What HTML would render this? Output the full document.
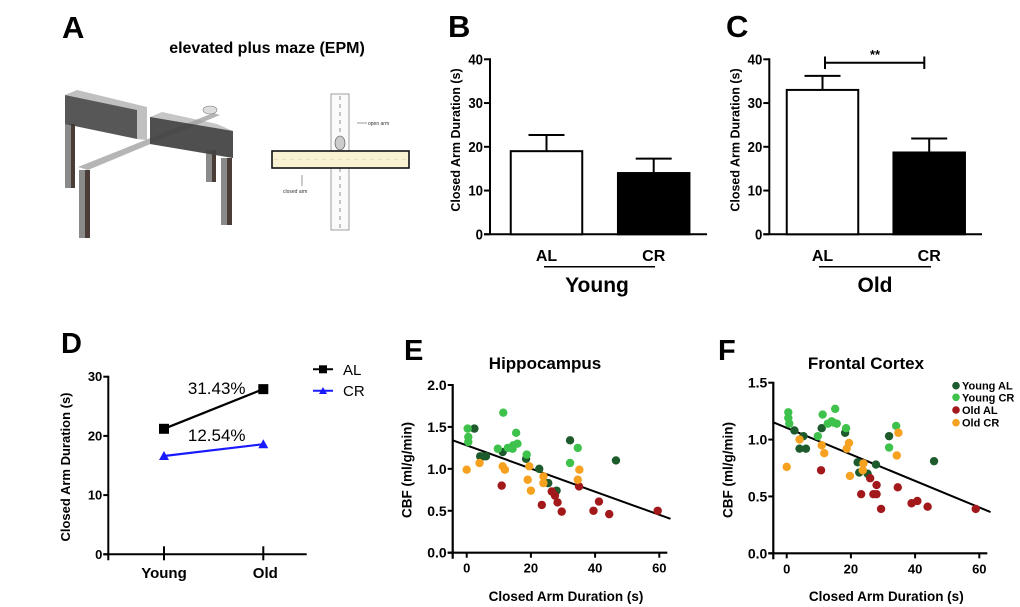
<!DOCTYPE html>
<html><head><meta charset="utf-8"><style>
html,body{margin:0;padding:0;background:#fff}
svg{display:block;font-family:"Liberation Sans",Arial,sans-serif}
</style></head><body>
<svg id="fig" width="1020" height="607" viewBox="0 0 1020 607" xmlns="http://www.w3.org/2000/svg">
<g>
<text x="62" y="38" font-size="31" font-weight="bold">A</text>
<text x="267" y="53" font-size="16" font-weight="bold" text-anchor="middle">elevated plus maze (EPM)</text>
<g>
<rect x="65" y="124" width="10" height="64" fill="#8a8a8a"/>
<rect x="71" y="124" width="4" height="64" fill="#4a3d38"/>
<rect x="206" y="150" width="10" height="32" fill="#8a8a8a"/>
<rect x="212" y="150" width="4" height="32" fill="#4a3d38"/>
<polygon points="65,95 77,90 147,107 147,140 137,139 137,110" fill="#b0b0b0" opacity="0.8"/>
<polygon points="65,95 137,110 137,139 65,124" fill="#3a3a3a" opacity="0.85"/>
<polygon points="78,167 88,170 220,115 213,113" fill="#a8a8a8" opacity="0.85"/>
<polygon points="162,112 217,124 233,131 233,158 150,144 150,117" fill="#a0a0a0" opacity="0.6"/>
<polygon points="150,117 233,131 233,158 150,144" fill="#3a3a3a" opacity="0.85"/>
<rect x="79" y="170" width="11" height="68" fill="#8a8a8a"/>
<rect x="85" y="170" width="5" height="68" fill="#4a3d38"/>
<rect x="221" y="158" width="11" height="67" fill="#8a8a8a"/>
<rect x="227" y="158" width="5" height="67" fill="#4a3d38"/>
<ellipse cx="210" cy="110" rx="7" ry="4" fill="#ddd" stroke="#777" stroke-width="0.6"/>
</g>
<g>
<rect x="331" y="94" width="18" height="136" fill="#fafafa" stroke="#888" stroke-width="0.8"/>
<line x1="340" y1="96" x2="340" y2="228" stroke="#666" stroke-width="0.7" stroke-dasharray="4,4"/>
<rect x="272" y="151" width="137" height="17" fill="#f8f2d2" stroke="#111" stroke-width="1.6"/>
<line x1="274" y1="159.5" x2="407" y2="159.5" stroke="#e0dcc0" stroke-width="0.7" stroke-dasharray="4,4"/>
<ellipse cx="340" cy="143" rx="5" ry="7" fill="#ccc" stroke="#555" stroke-width="0.6"/>
<line x1="357" y1="123" x2="367" y2="123" stroke="#333" stroke-width="0.5"/>
<text x="368" y="125" font-size="5" fill="#333">open arm</text>
<line x1="302" y1="186" x2="302" y2="175" stroke="#333" stroke-width="0.5"/>
<text x="283" y="193" font-size="5" fill="#333">closed arm</text>
</g>
</g>
<g id="charts"></g>
</svg>
<script>
const barCats = ['AL', 'CR'];
const bMeans = [19, 14];
const bErrs = [3.7, 3.3];
const cMeans = [33, 18.7];
const cErrs = [3.2, 3.2];
const barTicks = [0, 10, 20, 30, 40];
const dCats = ['Young', 'Old'];
const dAL = [21.2, 27.9];
const dCR = [16.6, 18.6];
const dTicks = [0, 10, 20, 30];
const dPct = ['31.43%', '12.54%'];
const eYoungALx = [2.4, 4.2, 5.2, 6, 11.2, 18.5, 22.6, 25.4, 28, 32.2, 46.5];
const eYoungALy = [1.48, 1.15, 1.15, 1.15, 1.2, 1.12, 1.0, 0.83, 0.74, 1.34, 1.1];
const eYoungCRx = [0.3, 0.5, 0.5, 11.4, 9.7, 12.8, 14.3, 15.4, 15.8, 14.5, 18.7, 34.6, 32.2];
const eYoungCRy = [1.48, 1.38, 1.32, 1.67, 1.24, 1.25, 1.24, 1.43, 1.30, 1.28, 1.17, 1.25, 1.07];
const eOldALx = [10.9, 23.4, 26.5, 27.5, 28.3, 29.6, 35, 39.5, 41.2, 44.4, 59.5];
const eOldALy = [0.80, 0.57, 0.73, 0.68, 0.60, 0.49, 0.79, 0.50, 0.61, 0.46, 0.50];
const eOldCRx = [0, 4, 11.2, 11.9, 19, 19.5, 20, 23.9, 23.9, 34.6, 35.1];
const eOldCRy = [0.99, 1.07, 1.03, 0.99, 0.87, 1.03, 0.74, 0.91, 0.83, 0.87, 0.99];
const eFit = [1.28, -0.0138];
const eYTicks = [0, 0.5, 1.0, 1.5, 2.0];
const fYoungALx = [2.4, 4, 5.2, 6, 10.9, 18.2, 22.1, 22.6, 25.2, 27.8, 31.9, 45.9];
const fYoungALy = [1.08, 0.92, 1.03, 0.92, 1.10, 1.06, 0.80, 0.71, 0.70, 0.78, 1.03, 0.81];
const fYoungCRx = [0.5, 0.5, 0.8, 11.2, 9.7, 12.8, 14, 15.1, 15.6, 14.5, 18.5, 34.1, 31.9];
const fYoungCRy = [1.24, 1.19, 1.14, 1.22, 1.03, 1.14, 1.16, 1.27, 1.14, 1.15, 1.10, 1.12, 0.93];
const fOldALx = [10.7, 23.2, 26, 27, 28, 28, 29.4, 34.6, 38.9, 40.7, 43.9, 58.9];
const fOldALy = [0.73, 0.52, 0.66, 0.52, 0.60, 0.52, 0.39, 0.58, 0.44, 0.46, 0.41, 0.39];
const fOldCRx = [0, 4, 10.9, 11.7, 18.7, 19.4, 19.7, 23.9, 23.7, 34.3, 34.8];
const fOldCRy = [0.76, 1.0, 0.95, 0.88, 0.92, 0.97, 0.68, 0.79, 0.73, 0.86, 1.06];
const fFit = [1.103, -0.01166];
const fYTicks = [0, 0.5, 1.0, 1.5];
const xTicks = [0, 20, 40, 60];
const groupNames = ['Young AL', 'Young CR', 'Old AL', 'Old CR'];
const groupColors = ['#1d5a2c', '#3ec24c', '#a3191b', '#f6a11f'];

const NS = 'http://www.w3.org/2000/svg';
const root = document.getElementById('charts');
function mk(tag, attrs, parent) {
  const el = document.createElementNS(NS, tag);
  for (const k in attrs) el.setAttribute(k, attrs[k]);
  (parent || root).appendChild(el);
  return el;
}
function txt(x, y, s, size, anchor, parent, extra) {
  const t = mk('text', Object.assign({x: x, y: y, 'font-size': size, 'font-weight': 'bold', 'text-anchor': anchor || 'middle'}, extra || {}), parent);
  t.textContent = s;
  return t;
}

function barChart(letter, lx, ax, axEnd, centers, means, errs, group, groupX, ulx1, ulx2) {
  const g = mk('g', {});
  
  
  const y0 = 234.3, k = 4.375;
  const Y = v => y0 - v * k;
  const L = txt(lx, 37, letter, 31, 'start', g);
  
  
  const ya = mk('line', {x1: ax, y1: Y(40) - 1, x2: ax, y2: y0, stroke: '#000', 'stroke-width': 2}, g);
  
  
  const xa = mk('line', {x1: ax - 6, y1: y0, x2: axEnd, y2: y0, stroke: '#000', 'stroke-width': 2}, g);
  
  
  barTicks.forEach(v => {
    const tk = mk('line', {x1: ax - 6, y1: Y(v), x2: ax, y2: Y(v), stroke: '#000', 'stroke-width': 2}, g);
    
    
    const tl = txt(ax - 7, Y(v) + 5, String(v), 15, 'end', g, {transform: 'scale(0.88,1)', x: (ax - 7) / 0.88});
    
    
  });
  const yt = txt(0, 0, 'Closed Arm Duration (s)', 12.5, 'middle', g, {transform: 'translate(' + (ax - 30) + ',140) rotate(-90)'});
  
  
  const bw = 71.5;
  means.forEach((m, i) => {
    const cx = centers[i];
    const eb = mk('line', {x1: cx, y1: Y(m), x2: cx, y2: Y(m + errs[i]), stroke: '#000', 'stroke-width': 2}, g);
    
    
    const cap = mk('line', {x1: cx - 18, y1: Y(m + errs[i]), x2: cx + 18, y2: Y(m + errs[i]), stroke: '#000', 'stroke-width': 2}, g);
    
    
    const b = mk('rect', {x: cx - bw / 2, y: Y(m), width: bw, height: y0 - Y(m), fill: i === 0 ? '#fff' : '#000', stroke: '#000', 'stroke-width': 2}, g);
    
    
    const cl = txt(cx, 261, barCats[i], 16, 'middle', g);
    
    
  });
  const ul = mk('line', {x1: ulx1, y1: 266.7, x2: ulx2, y2: 266.7, stroke: '#000', 'stroke-width': 1.5}, g);
  
  
  const gl = txt(groupX, 292, group, 21, 'middle', g);
  
  
  return {g: g, Y: Y};
}
barChart('B', 448, 490, 707, [546.5, 653.7], bMeans, bErrs, 'Young', 597, 544, 655);
const C = barChart('C', 726, 769.3, 982, [822.5, 929.2], cMeans, cErrs, 'Old', 875, 819, 931);
const sig = mk('path', {d: 'M825,56.5V69M825,62.7H924.3M924.3,56.5V69', stroke: '#000', 'stroke-width': 2, fill: 'none'}, C.g);


const star = txt(875, 59, '**', 13, 'middle', C.g);



(function () {
  const g = mk('g', {});
  
  
  const y0 = 554.3, k = 5.92, ax = 108.3;
  const Y = v => y0 - v * k;
  const X = i => 164 + i * 99.3;
  const L = txt(61, 353, 'D', 29, 'start', g);
  
  
  const ya = mk('line', {x1: ax, y1: Y(30) - 1, x2: ax, y2: y0 + 6, stroke: '#000', 'stroke-width': 2}, g);
  
  
  const xa = mk('line', {x1: ax - 5, y1: y0, x2: 306.7, y2: y0, stroke: '#000', 'stroke-width': 2}, g);
  
  
  dTicks.forEach(v => {
    const tk = mk('line', {x1: ax - 5, y1: Y(v), x2: ax, y2: Y(v), stroke: '#000', 'stroke-width': 2}, g);
    
    
    const tl = txt(ax - 6, Y(v) + 4.5, String(v), 13, 'end', g);
    
    
  });
  dCats.forEach((c, i) => {
    const tk = mk('line', {x1: X(i), y1: y0 - 8, x2: X(i), y2: y0 + 6, stroke: '#000', 'stroke-width': 2}, g);
    
    
    const tl = txt(X(i) + (i ? 2 : 0), 578, c, 15, 'middle', g);
    
    
  });
  const yt = txt(0, 0, 'Closed Arm Duration (s)', 13, 'middle', g, {transform: 'translate(70,467) rotate(-90)'});
  
  
  const alLine = mk('polyline', {points: dAL.map((v, i) => X(i) + ',' + Y(v)).join(' '), stroke: '#000', 'stroke-width': 2.2, fill: 'none'}, g);
  
  
  dAL.forEach((v, i) => {
    const m = mk('rect', {x: X(i) - 5, y: Y(v) - 5, width: 10, height: 10, fill: '#000'}, g);
    
    
  });
  const crLine = mk('polyline', {points: dCR.map((v, i) => X(i) + ',' + Y(v)).join(' '), stroke: '#1a1aff', 'stroke-width': 2.2, fill: 'none'}, g);
  
  
  dCR.forEach((v, i) => {
    const m = mk('polygon', {points: (X(i) - 5) + ',' + (Y(v) + 4) + ' ' + (X(i) + 5) + ',' + (Y(v) + 4) + ' ' + X(i) + ',' + (Y(v) - 5), fill: '#1a1aff'}, g);
    
    
  });
  const p1 = txt(216.7, 394, dPct[0], 17, 'middle', g, {'font-weight': 'normal'});
  
  
  const p2 = txt(216.7, 441, dPct[1], 17, 'middle', g, {'font-weight': 'normal'});
  
  
  const lg1 = mk('line', {x1: 313, y1: 369.3, x2: 333, y2: 369.3, stroke: '#000', 'stroke-width': 2}, g);
  
  
  const lm1 = mk('rect', {x: 319, y: 365.3, width: 8, height: 8, fill: '#000'}, g);
  
  
  const lt1 = txt(343, 375, 'AL', 15, 'start', g, {'font-weight': 'normal'});
  
  
  const lg2 = mk('line', {x1: 313, y1: 390.7, x2: 333, y2: 390.7, stroke: '#1a1aff', 'stroke-width': 2}, g);
  
  
  const lm2 = mk('polygon', {points: '319,394 327,394 323,387', fill: '#1a1aff'}, g);
  
  
  const lt2 = txt(343, 396, 'CR', 15, 'start', g, {'font-weight': 'normal'});
  
  
})();

function scatter(letter, lx, title, titleX, ax, x0px, y0, yMaxVal, yMaxPx, yTicks, xs, ys, fit, legend) {
  const g = mk('g', {});
  
  
  const X = v => x0px + v * 3.21;
  const Y = v => y0 - v * (y0 - yMaxPx) / yMaxVal;
  const L = txt(lx, 360, letter, 29, 'start', g);
  
  
  const T = txt(titleX, 369, title, 17, 'middle', g);
  
  
  const ya = mk('line', {x1: ax, y1: yMaxPx - 1, x2: ax, y2: y0 + 6, stroke: '#000', 'stroke-width': 2.2}, g);
  
  
  const xa = mk('line', {x1: ax - 5, y1: y0, x2: X(62.5), y2: y0, stroke: '#000', 'stroke-width': 2.2}, g);
  
  
  yTicks.forEach(v => {
    const tk = mk('line', {x1: ax - 5, y1: Y(v), x2: ax, y2: Y(v), stroke: '#000', 'stroke-width': 2}, g);
    
    
    const tl = txt(ax - 6, Y(v) + 5, v.toFixed(1), 14, 'end', g);
    
    
  });
  xTicks.forEach(v => {
    const tk = mk('line', {x1: X(v), y1: y0, x2: X(v), y2: y0 + 5, stroke: '#000', 'stroke-width': 2}, g);
    
    
    const tl = txt(X(v), y0 + 20, String(v), 13, 'middle', g);
    
    
  });
  const xt = txt((ax + X(62.5)) / 2 + 6, 601, 'Closed Arm Duration (s)', 13.5, 'middle', g);
  
  
  const yt = txt(0, 0, 'CBF (ml/g/min)', 13.5, 'middle', g, {transform: 'translate(' + (ax - 41) + ',470) rotate(-90)'});
  
  
  const xa0 = (ax - x0px) / 3.21, xa1 = 63.5;
  const fl = mk('line', {x1: X(xa0), y1: Y(fit[0] + fit[1] * xa0), x2: X(xa1), y2: Y(fit[0] + fit[1] * xa1), stroke: '#000', 'stroke-width': 2}, g);
  
  
  xs.forEach((arr, gi) => {
    arr.forEach((xv, i) => {
      const c = mk('circle', {cx: X(xv), cy: Y(ys[gi][i]), r: 4.2, fill: groupColors[gi]}, g);
      
      
    });
  });
  if (legend) {
    const ly = [385.7, 397.3, 410, 422.7];
    groupNames.forEach((n, i) => {
      const c = mk('circle', {cx: 956, cy: ly[i], r: 3.8, fill: groupColors[i]}, g);
      
      
      const t = txt(962, ly[i] + 4, n, 11, 'start', g);
      
      
    });
  }
}
scatter('E', 404, 'Hippocampus', 545, 452.7, 466.7, 552.7, 2.0, 385, eYTicks,
  [eYoungALx, eYoungCRx, eOldALx, eOldCRx], [eYoungALy, eYoungCRy, eOldALy, eOldCRy], eFit, false);
scatter('F', 718, 'Frontal Cortex', 866, 773.3, 786.7, 553.3, 1.5, 382.7, fYTicks,
  [fYoungALx, fYoungCRx, fOldALx, fOldCRx], [fYoungALy, fYoungCRy, fOldALy, fOldCRy], fFit, true);
</script>
</body></html>
